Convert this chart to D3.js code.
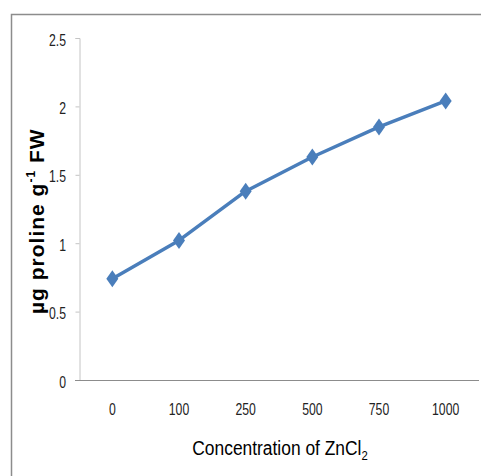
<!DOCTYPE html>
<html>
<head>
<meta charset="utf-8">
<script src="https://cdn.jsdelivr.net/npm/d3@7"></script>
<style>
  body { margin: 0; background: #fff; }
</style>
</head>
<body>
<div id="chart"></div>
<script>
const categories = ['0', '100', '250', '500', '750', '1000'];
const proline = [0.74, 1.02, 1.38, 1.63, 1.85, 2.04];
const yTicks = [0, 0.5, 1, 1.5, 2, 2.5];

const width = 481;
const height = 476;
const margin = { top: 38, right: 2, bottom: 96, left: 79 };
const squeeze = 0.72; // narrow look of the tick labels

const svg = d3.select('#chart')
  .append('svg')
  .attr('width', width)
  .attr('height', height);

// outer frame (cut off on the right and bottom)
svg.append('rect')
  .attr('x', 11.5)
  .attr('y', 14.5)
  .attr('width', 500)
  .attr('height', 500)
  .attr('fill', 'none')
  .attr('stroke', '#8c8c8c')
  .attr('stroke-width', 1.5);

const x = d3.scaleBand()
  .domain(categories)
  .range([margin.left, width - margin.right]);

const y = d3.scaleLinear()
  .domain([0, 2.5])
  .range([height - margin.bottom, margin.top]);

const tickFont = '"Liberation Sans", Arial, sans-serif';

// y axis
const yAxis = svg.append('g')
  .attr('transform', `translate(${margin.left + 0.5},0)`)
  .call(d3.axisLeft(y).tickValues(yTicks).tickSize(4).tickFormat(d => d));
yAxis.select('.domain').attr('stroke', '#c4c4c4');
yAxis.selectAll('.tick line').attr('stroke', '#c4c4c4');
yAxis.selectAll('text')
  .attr('x', -13.5 / squeeze)
  .attr('dy', '0.42em')
  .attr('transform', `scale(${squeeze},1)`)
  .attr('font-family', tickFont)
  .attr('font-size', '17px')
  .attr('fill', '#222');

// x axis
const xAxis = svg.append('g')
  .attr('transform', `translate(0,${y(0) + 0.5})`)
  .call(d3.axisBottom(x).tickSize(0).tickPadding(22));
xAxis.select('.domain')
  .attr('stroke', '#8c8c8c')
  .attr('d', `M${margin.left - 4},0H${width - margin.right}`);
xAxis.selectAll('text')
  .attr('transform', `scale(${squeeze},1)`)
  .attr('font-family', tickFont)
  .attr('font-size', '17px')
  .attr('fill', '#222');

// line and markers
const pts = categories.map((c, i) => [x(c) + x.bandwidth() / 2, y(proline[i])]);

svg.append('path')
  .datum(pts)
  .attr('fill', 'none')
  .attr('stroke', '#4a7ebb')
  .attr('stroke-width', 3.5)
  .attr('stroke-linejoin', 'round')
  .attr('d', d3.line());

svg.append('g')
  .selectAll('path')
  .data(pts)
  .join('path')
    .attr('transform', d => `translate(${d[0]},${d[1]})`)
    .attr('d', 'M0,-8.5L6,0L0,8.5L-6,0Z')
    .attr('fill', '#4a7ebb');

// axis titles
const xt = svg.append('text')
  .attr('transform', 'translate(280,455) scale(0.87,1)')
  .attr('text-anchor', 'middle')
  .attr('font-family', tickFont)
  .attr('font-size', '20px')
  .attr('fill', '#000')
  .text('Concentration of ZnCl');
xt.append('tspan')
  .attr('font-size', '13px')
  .attr('dy', 5)
  .text('2');

// y title, drawn from its start so the length is predictable
const yt = svg.append('text')
  .attr('transform', 'translate(44,314) rotate(-90)')
  .attr('font-family', tickFont)
  .attr('font-weight', 'bold')
  .attr('font-size', '21px')
  .attr('letter-spacing', '1px')
  .attr('fill', '#000')
  .text('µg proline g');
yt.append('tspan')
  .attr('font-size', '12px')
  .attr('dy', -9)
  .text('-1');
yt.append('tspan')
  .attr('dy', 9)
  .text(' FW');
</script>
</body>
</html>
